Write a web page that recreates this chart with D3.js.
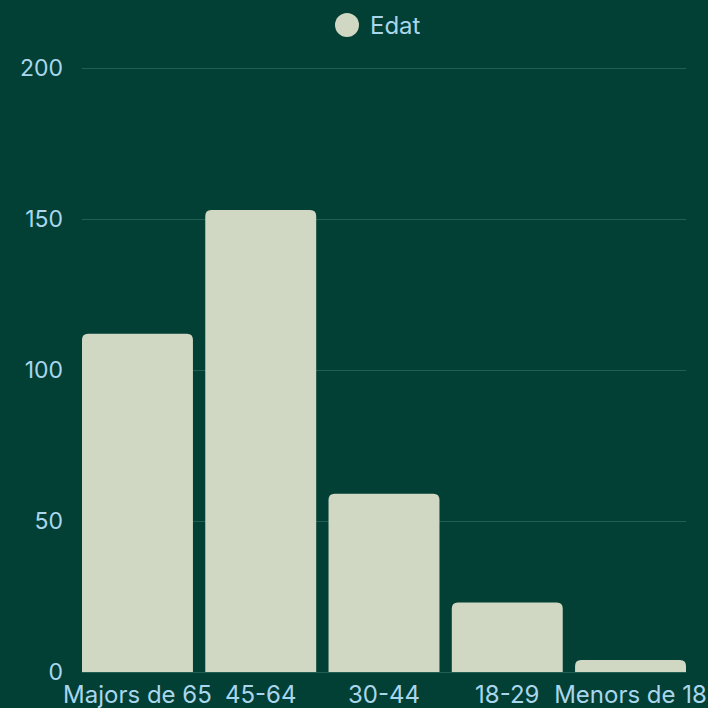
<!DOCTYPE html>
<html><head><meta charset="utf-8">
<script src="https://cdn.jsdelivr.net/npm/d3@7"></script>
<style>html,body{margin:0;padding:0;background:#023f34;}svg{display:block;}</style>
</head><body>
<script>
const categories = ["Majors de 65", "45-64", "30-44", "18-29", "Menors de 18"];
const values = [112, 153, 59, 23, 4];
const yTicks = [0, 50, 100, 150, 200];
const seriesName = "Edat";

const W = 708, H = 708;
const bg = "#023f34", barColor = "#d0d8c3", textColor = "#a9d6ec", gridColor = "#235e55";
const font = "Inter, 'Noto Sans', sans-serif";

const svg = d3.select("body").append("svg").attr("width", W).attr("height", H);
svg.append("rect").attr("width", W).attr("height", H).attr("fill", bg);

const x = d3.scaleBand().domain(categories).range([82, 686]).paddingInner(0.1).paddingOuter(0);
const y = d3.scaleLinear().domain([0, 200]).range([672, 68]);

// gridlines
svg.append("g").selectAll("line").data(yTicks).join("line")
  .attr("x1", 82).attr("x2", 686)
  .attr("y1", d => y(d) + 0.5).attr("y2", d => y(d) + 0.5)
  .attr("stroke", gridColor).attr("stroke-width", 1);

// y labels
svg.append("g").selectAll("text").data(yTicks).join("text")
  .attr("x", 63).attr("y", d => y(d))
  .attr("text-anchor", "end").attr("dominant-baseline", "central")
  .attr("fill", textColor).attr("font-family", font).attr("font-size", 23)
  .text(d => d);

// bars with rounded top corners
const r = 6;
function barPath(x0, w, yTop, yBase) {
  const rr = Math.min(r, (yBase - yTop), w / 2);
  return `M${x0},${yBase}V${yTop + rr}Q${x0},${yTop} ${x0 + rr},${yTop}H${x0 + w - rr}Q${x0 + w},${yTop} ${x0 + w},${yTop + rr}V${yBase}Z`;
}
svg.append("g").selectAll("path").data(categories).join("path")
  .attr("d", (c, i) => barPath(x(c), x.bandwidth(), y(values[i]), y(0)))
  .attr("fill", barColor);

// x labels
svg.append("g").selectAll("text").data(categories).join("text")
  .attr("x", c => x(c) + x.bandwidth() / 2).attr("y", 694)
  .attr("text-anchor", "middle").attr("dominant-baseline", "central")
  .attr("fill", textColor).attr("font-family", font).attr("font-size", 24)
  .text(c => c);

// legend
svg.append("circle").attr("cx", 347).attr("cy", 25).attr("r", 12).attr("fill", barColor);
svg.append("text").attr("x", 370).attr("y", 25).attr("dominant-baseline", "central")
  .attr("fill", textColor).attr("font-family", font).attr("font-size", 24).text(seriesName);
</script>
</body></html>
